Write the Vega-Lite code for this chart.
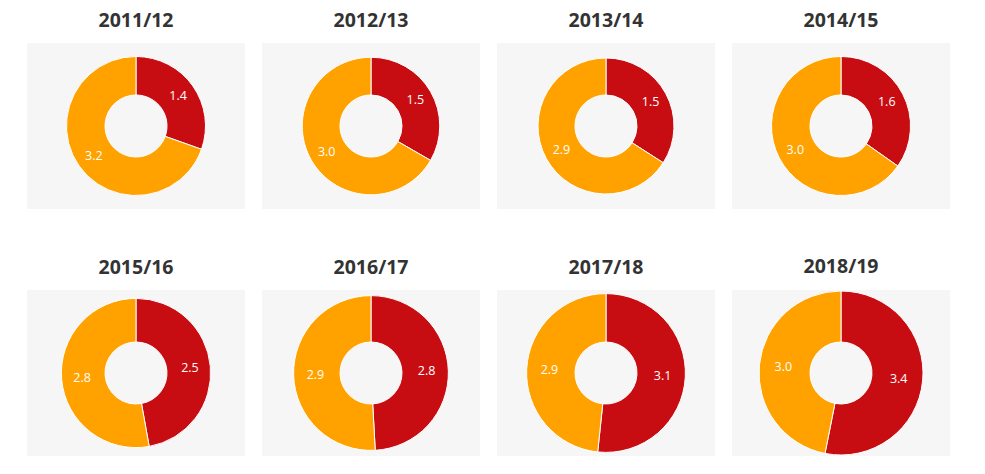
{
  "$schema": "https://vega.github.io/schema/vega-lite/v6.json",
  "padding": {"left": 27, "top": 10, "right": 10, "bottom": 5},
  "background": "white",
  "data": {
    "values": [
      {"season": "2011/12", "series": "A", "value": 1.4},
      {"season": "2011/12", "series": "B", "value": 3.2},
      {"season": "2012/13", "series": "A", "value": 1.5},
      {"season": "2012/13", "series": "B", "value": 3.0},
      {"season": "2013/14", "series": "A", "value": 1.5},
      {"season": "2013/14", "series": "B", "value": 2.9},
      {"season": "2014/15", "series": "A", "value": 1.6},
      {"season": "2014/15", "series": "B", "value": 3.0},
      {"season": "2015/16", "series": "A", "value": 2.5},
      {"season": "2015/16", "series": "B", "value": 2.8},
      {"season": "2016/17", "series": "A", "value": 2.8},
      {"season": "2016/17", "series": "B", "value": 2.9},
      {"season": "2017/18", "series": "A", "value": 3.1},
      {"season": "2017/18", "series": "B", "value": 2.9},
      {"season": "2018/19", "series": "A", "value": 3.4},
      {"season": "2018/19", "series": "B", "value": 3.0}
    ]
  },
  "transform": [
    {"joinaggregate": [{"op": "sum", "field": "value", "as": "total"}], "groupby": ["season"]}
  ],
  "facet": {
    "field": "season",
    "type": "ordinal",
    "header": {
      "title": null,
      "labelFont": "Open Sans",
      "labelFontSize": 19.5,
      "labelFontWeight": "bold",
      "labelColor": "#333333",
      "labelPadding": 12
    }
  },
  "columns": 4,
  "spacing": {"column": 17, "row": 46},
  "spec": {
    "width": 218,
    "height": 166,
    "view": {"fill": "#f6f6f6", "stroke": null},
    "layer": [
      {
        "mark": {"type": "arc", "innerRadius": 31, "stroke": "white", "strokeWidth": 1},
        "encoding": {
          "theta": {"field": "value", "type": "quantitative", "stack": "normalize"},
          "radius": {
            "field": "total",
            "type": "quantitative",
            "scale": {"type": "sqrt", "domain": [0, 6.4], "range": [0, 82], "zero": true}
          },
          "color": {
            "field": "series",
            "type": "nominal",
            "scale": {"domain": ["A", "B"], "range": ["#c80d12", "#ffa200"]},
            "legend": null
          },
          "order": {"field": "series", "sort": "ascending"}
        }
      },
      {
        "mark": {"type": "text", "font": "Open Sans", "fontSize": 12.5, "color": "white"},
        "encoding": {
          "theta": {"field": "value", "type": "quantitative", "stack": "normalize"},
          "radius": {
            "field": "total",
            "type": "quantitative",
            "scale": {"type": "sqrt", "domain": [0, 6.4], "range": [15.5, 58]}
          },
          "text": {"field": "value", "type": "quantitative", "format": ".1f"},
          "order": {"field": "series", "sort": "ascending"}
        }
      }
    ],
    "resolve": {"scale": {"radius": "independent"}}
  },
  "config": {
    "view": {"fill": "#f6f6f6", "stroke": null}
  }
}
